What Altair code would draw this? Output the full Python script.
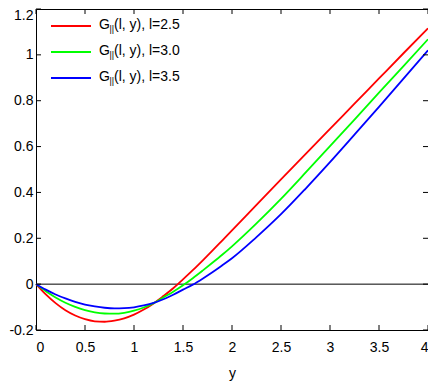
import altair as alt
import pandas as pd

# shared abscissa values
y_vals = [0.0, 0.1, 0.2, 0.3, 0.4, 0.5, 0.6, 0.7, 0.8, 0.9, 1.0,
          1.1, 1.2, 1.3, 1.4, 1.5, 1.6, 1.7, 1.8, 1.9, 2.0,
          2.25, 2.5, 2.75, 3.0, 3.25, 3.5, 3.75, 4.0]

g_l25 = [0.0, -0.045, -0.083, -0.114, -0.137, -0.153, -0.162, -0.164, -0.159, -0.149, -0.133,
         -0.111, -0.084, -0.052, -0.018, 0.021, 0.061, 0.103, 0.146, 0.190, 0.234,
         0.346, 0.457, 0.567, 0.677, 0.787, 0.897, 1.007, 1.116]
g_l30 = [0.0, -0.031, -0.058, -0.081, -0.099, -0.113, -0.123, -0.128, -0.129, -0.125, -0.116,
         -0.102, -0.083, -0.058, -0.033, -0.005, 0.026, 0.059, 0.093, 0.128, 0.165,
         0.265, 0.372, 0.486, 0.602, 0.718, 0.835, 0.951, 1.068]
g_l35 = [0.0, -0.024, -0.045, -0.062, -0.077, -0.089, -0.097, -0.103, -0.106, -0.105, -0.101,
         -0.093, -0.082, -0.066, -0.046, -0.024, -0.002, 0.024, 0.052, 0.082, 0.113,
         0.205, 0.305, 0.416, 0.532, 0.652, 0.773, 0.896, 1.020]

series_names = ["l=2.5", "l=3.0", "l=3.5"]
series_colors = ["#ff0000", "#00ff00", "#0000ff"]
x_ticks = [0, 0.5, 1, 1.5, 2, 2.5, 3, 3.5, 4]
y_ticks = [-0.2, 0, 0.2, 0.4, 0.6, 0.8, 1, 1.2]

rows = []
for name, vals in zip(series_names, [g_l25, g_l30, g_l35]):
    for xv, gv in zip(y_vals, vals):
        rows.append({"x": xv, "g": gv, "series": name})
df = pd.DataFrame(rows)

W, H = 392, 321
FONT = "Liberation Sans"
xs = alt.Scale(domain=[0, 4], nice=False, zero=False)
ys = alt.Scale(domain=[-0.2, 1.2], nice=False, zero=False)

lines = alt.Chart(df).mark_line(strokeWidth=1.8, interpolate="monotone").encode(
    x=alt.X("x:Q", scale=xs,
            axis=alt.Axis(values=x_ticks, title="y", labelExpr="toString(datum.value)",
                          ticks=False, domain=False, grid=False, labelPadding=10,
                          labelFont=FONT, labelFontSize=14, labelColor="black",
                          titleFont=FONT, titleFontSize=14, titleFontWeight="normal",
                          titleColor="black", titlePadding=12)),
    y=alt.Y("g:Q", scale=ys,
            axis=alt.Axis(values=y_ticks, title=None, labelExpr="toString(datum.value)",
                          ticks=False, domain=False, grid=False, labelPadding=3,
                          labelOffset=alt.condition("datum.value == 1.2", alt.value(6), alt.value(0)),
                          labelFont=FONT, labelFontSize=14, labelColor="black")),
    color=alt.Color("series:N", scale=alt.Scale(domain=series_names, range=series_colors),
                    legend=None),
)

zero = alt.Chart(pd.DataFrame({"g": [0]})).mark_rule(color="black", strokeWidth=1).encode(
    y=alt.Y("g:Q", scale=ys)
)

xt = pd.DataFrame({"x": x_ticks})
yt = pd.DataFrame({"g": y_ticks})
tick_len = 5
xb = alt.Chart(xt).mark_rule(color="black").encode(
    x=alt.X("x:Q", scale=xs), y=alt.value(H), y2=alt.value(H - tick_len))
xtp = alt.Chart(xt).mark_rule(color="black").encode(
    x=alt.X("x:Q", scale=xs), y=alt.value(0), y2=alt.value(tick_len))
yl = alt.Chart(yt).mark_rule(color="black").encode(
    y=alt.Y("g:Q", scale=ys), x=alt.value(0), x2=alt.value(tick_len))
yr = alt.Chart(yt).mark_rule(color="black").encode(
    y=alt.Y("g:Q", scale=ys), x=alt.value(W), x2=alt.value(W - tick_len))

# manual legend (top-left, inside)
legend_layers = []
for i, (name, col) in enumerate(zip(series_names, series_colors)):
    ry = 17 + 26 * i
    one = pd.DataFrame({"a": [0]})
    legend_layers.append(alt.Chart(one).mark_rule(color=col, strokeWidth=1.8).encode(
        x=alt.value(15), x2=alt.value(55), y=alt.value(ry)))
    legend_layers.append(alt.Chart(one).mark_text(
        text="G", font=FONT, fontSize=14, align="left", baseline="middle", color="black"
    ).encode(x=alt.value(63), y=alt.value(ry - 1)))
    legend_layers.append(alt.Chart(one).mark_text(
        text="||", font=FONT, fontSize=9, align="left", baseline="middle", color="black"
    ).encode(x=alt.value(73.5), y=alt.value(ry + 3)))
    legend_layers.append(alt.Chart(one).mark_text(
        text="(l, y), " + name, font=FONT, fontSize=14, align="left", baseline="middle",
        color="black"
    ).encode(x=alt.value(78), y=alt.value(ry - 1)))

chart = alt.layer(zero, lines, xb, xtp, yl, yr, *legend_layers).properties(
    width=W, height=H,
    autosize=alt.AutoSizeParams(type="none"),
    padding={"left": 28, "top": 1, "right": 0, "bottom": 56},
).configure_view(stroke="black", strokeWidth=1)

chart.save("out.html", embed_options={"renderer": "svg", "actions": False})
